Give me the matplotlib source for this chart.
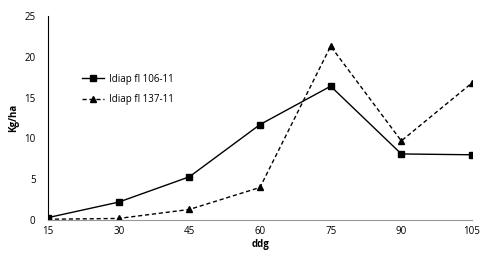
import matplotlib
matplotlib.use("Agg")
import matplotlib.pyplot as plt

ddg = [15, 30, 45, 60, 75, 90, 105]
fl_106 = [0.3, 2.2, 5.3, 11.7, 16.4, 8.1, 8.0]
fl_137 = [0.1, 0.2, 1.3, 4.0, 21.3, 9.7, 16.8]

plt.rcParams['font.family'] = ['Open Sans', 'DejaVu Sans']

fig = plt.figure(figsize=(5.0, 2.58), dpi=100)
ax = fig.add_axes([0.096, 0.147, 0.848, 0.791])

ax.plot(ddg, fl_106, color='black', lw=1.0, marker='s', ms=5, label='Idiap fl 106-11')
ax.plot(ddg, fl_137, color='black', lw=1.0, ls=(0, (3, 2)), marker='^', ms=5,
        label='Idiap fl 137-11')

ax.set_xlim(15, 105)
ax.set_ylim(0, 25)
ax.set_xticks(ddg)
ax.set_yticks([0, 5, 10, 15, 20, 25])
ax.tick_params(axis='x', length=0, labelsize=7, pad=4)
ax.tick_params(axis='y', length=0, labelsize=7, pad=9)

for s in ['top', 'right']:
    ax.spines[s].set_visible(False)
ax.spines['bottom'].set_color('#999999')
ax.spines['left'].set_color('black')
ax.spines['left'].set_linewidth(0.8)

ax.set_xlabel('ddg', fontsize=7, fontweight='bold', labelpad=2)
ax.set_ylabel('Kg/ha', fontsize=7, fontweight='bold', labelpad=4)

ax.legend(loc='upper left', bbox_to_anchor=(0.06, 0.76), frameon=False, fontsize=7,
          handlelength=2.2, labelspacing=1.0, handletextpad=0.6)

fig.savefig('out.png', dpi=100)
